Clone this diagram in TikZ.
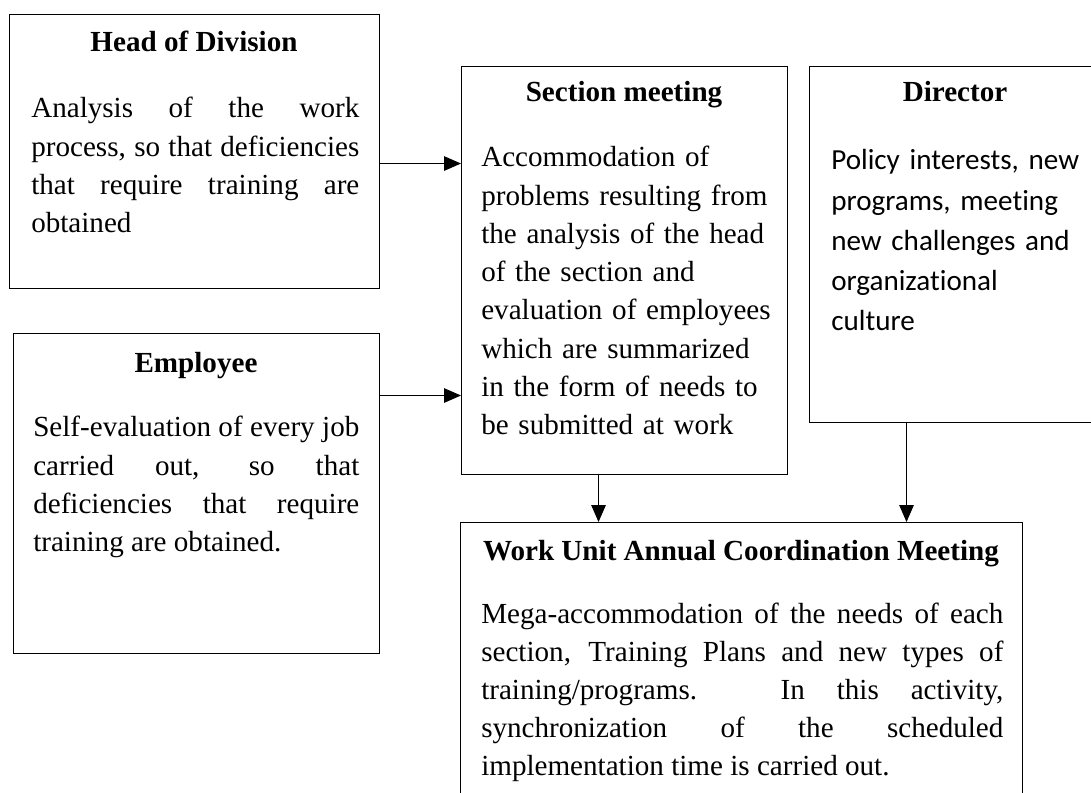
\documentclass[tikz,border=0pt]{standalone}
\usepackage{fontspec}
\setmainfont{Liberation Serif}
\newfontfamily\calfont[Ligatures=NoCommon]{Carlito}
\usetikzlibrary{arrows.meta}
\tolerance=10000
\hyphenpenalty=10000
\exhyphenpenalty=10000
\def\bodysize{\fontsize{20.7pt}{27.2pt}\selectfont}
\def\calsize{\fontsize{20.7pt}{28.45pt}\selectfont}
\tikzset{
  box/.style={draw, line width=0.7pt, anchor=north west, inner sep=0pt},
  ttl/.style={anchor=base, inner sep=0pt, font=\bodysize\bfseries},
  txt/.style={anchor=base west, inner sep=0pt, font=\bodysize, align=justify},
  arr/.style={line width=0.7pt, -{Triangle[length=0.42cm,width=0.36cm]}}
}

\begin{document}
\begin{tikzpicture}[x=0.025cm, y=-0.025cm]
\useasboundingbox (0,0) rectangle (1091,793);

% boxes
\node[box, minimum width=9.25cm, minimum height=6.85cm] (head) at (9,14) {};
\node[box, minimum width=8.15cm, minimum height=10.2cm] (section) at (461,66) {};
\node[box, minimum width=7.3cm, minimum height=8.9cm] (dir) at (809,66) {};
\node[box, minimum width=9.15cm, minimum height=8cm] (emp) at (13,333) {};
\node[box, minimum width=14.05cm, minimum height=8cm] (work) at (460,522) {};

% titles
\node[ttl] (headT) at (194,52) {Head of Division};
\node[ttl] (secT) at (624,102) {Section meeting};
\node[ttl] (dirT) at (955,102) {Director};
\node[ttl] (empT) at (196,372) {Employee};
\node[ttl] (workT) at (741,560) {Work Unit Annual Coordination Meeting};

% texts
\node[txt, text width=8.2cm] (headB) at (31,118)
  {Analysis of the work\linebreak process, so that deficiencies\linebreak that require training are\linebreak obtained};
\node[txt, text width=7.6cm, align=left] (secB) at (481,167)
  {Accommodation of\\ problems resulting from\\ the analysis of the head\\ of the section and\\ evaluation of employees\\ which are summarized\\ in the form of needs to\\ be submitted at work};
\node[txt, text width=6.5cm, align=left, font=\calsize\calfont] (dirB) at (831,170)
  {Policy interests, new\\ programs, meeting\\ new challenges and\\ organizational\\ culture};
\node[txt, text width=8.15cm] (empB) at (33,437)
  {Self-evaluation of every job\linebreak carried out, so that\linebreak deficiencies that require\linebreak training are obtained.};
\node[txt, text width=13.05cm] (workB) at (481,623)
  {Mega-accommodation of the needs of each\linebreak section, Training Plans and new types of\linebreak training/programs. In this activity,\linebreak synchronization of the scheduled\linebreak implementation time is carried out.};

% arrows
\coordinate (a1) at ([yshift=-0.3cm]head.east);
\coordinate (a2) at ([yshift=2.45cm]emp.east);
\coordinate (a3) at ([xshift=-0.65cm]section.south);
\coordinate (a4) at ([xshift=-1.225cm]dir.south);
\draw[arr] (a1) -- (a1 -| section.west);
\draw[arr] (a2) -- (a2 -| section.west);
\draw[arr] (a3) -- (a3 |- work.north);
\draw[arr] (a4) -- (a4 |- work.north);
\end{tikzpicture}
\end{document}
